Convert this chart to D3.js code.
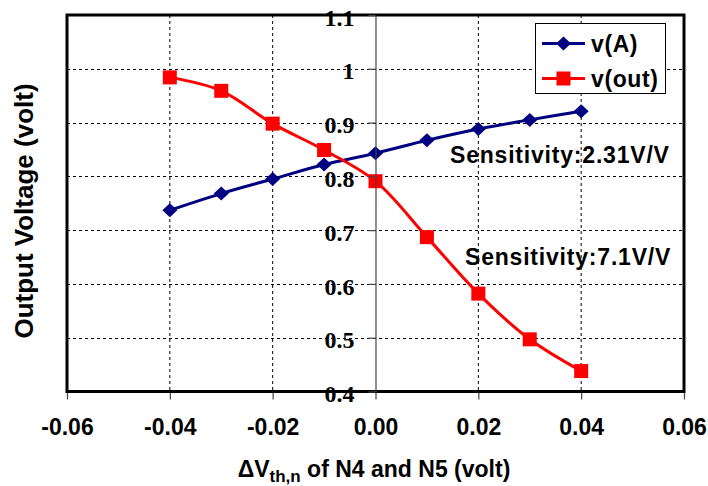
<!DOCTYPE html>
<html>
<head>
<meta charset="utf-8">
<script src="https://cdn.jsdelivr.net/npm/d3@7"></script>
<style>
  html, body { margin: 0; padding: 0; background: #fff; }
  svg { display: block; }
  .sans { font-family: "Liberation Sans", Arial, sans-serif; font-weight: bold; }
  .serif { font-family: "Liberation Serif", "Times New Roman", serif; font-weight: bold; }
</style>
</head>
<body>
<svg id="chart" width="708" height="486"></svg>
<script>
// Threshold-voltage shift (volt) applied to N4 and N5
const dVth = [-0.04, -0.03, -0.02, -0.01, 0.00, 0.01, 0.02, 0.03, 0.04];
// Node voltages (volt)
const vA   = [0.737, 0.768, 0.795, 0.822, 0.843, 0.867, 0.888, 0.905, 0.921];
const vOut = [0.984, 0.959, 0.898, 0.849, 0.791, 0.687, 0.582, 0.497, 0.438];

const seriesNames = ["v(A)", "v(out)"];
const xTicks = [-0.06, -0.04, -0.02, 0.00, 0.02, 0.04, 0.06];
const xTickLabels = ["-0.06", "-0.04", "-0.02", "0.00", "0.02", "0.04", "0.06"];
const yTicks = [0.4, 0.5, 0.6, 0.7, 0.8, 0.9, 1.0, 1.1];
const yTickLabels = ["0.4", "0.5", "0.6", "0.7", "0.8", "0.9", "1", "1.1"];
const annotations = ["Sensitivity:2.31V/V", "Sensitivity:7.1V/V"];

const svg = d3.select("#chart");
const plot = { left: 67, right: 684, top: 15, bottom: 391.5 };

const x = d3.scaleLinear().domain([-0.06, 0.06]).range([plot.left, plot.right]);
const y = d3.scaleLinear().domain([0.4, 1.1]).range([plot.bottom, plot.top]);

// dashed grid
const grid = svg.append("g");
grid.selectAll("line.vg")
  .data(xTicks.filter(v => v !== 0 && Math.abs(v) < 0.059))
  .join("line")
  .attr("x1", d => x(d)).attr("x2", d => x(d))
  .attr("y1", plot.top).attr("y2", plot.bottom)
  .attr("stroke", "#000").attr("stroke-width", 1)
  .attr("stroke-dasharray", "3,3");
grid.selectAll("line.hg")
  .data(yTicks.filter(v => v > 0.41 && v < 1.09))
  .join("line")
  .attr("x1", plot.left).attr("x2", plot.right)
  .attr("y1", d => Math.round(y(d)) + 0.5).attr("y2", d => Math.round(y(d)) + 0.5)
  .attr("stroke", "#000").attr("stroke-width", 1)
  .attr("stroke-dasharray", "3,3");

// vertical value axis crossing at x = 0
const yAxis = d3.axisLeft(y)
  .tickValues(yTicks)
  .tickFormat((d, i) => yTickLabels[i])
  .tickSize(7).tickSizeOuter(0).tickPadding(14);
const gy = svg.append("g").attr("transform", `translate(${x(0)},0)`).call(yAxis);
gy.select(".domain").attr("stroke", "#444").attr("stroke-width", 1.2);
gy.selectAll(".tick line").attr("stroke", "#444").attr("stroke-width", 1.2);
gy.selectAll(".tick text")
  .attr("class", "serif")
  .attr("font-size", 24)
  .attr("fill", "#000")
  .attr("dy", "0.42em");

// horizontal axis along the bottom
const xAxis = d3.axisBottom(x)
  .tickValues(xTicks)
  .tickFormat((d, i) => xTickLabels[i])
  .tickSize(8).tickSizeOuter(0).tickPadding(19);
const gx = svg.append("g").attr("transform", `translate(0,${plot.bottom})`).call(xAxis);
gx.select(".domain").remove();
gx.selectAll(".tick line").attr("stroke", "#444").attr("stroke-width", 1.2);
gx.selectAll(".tick text")
  .attr("class", "sans")
  .attr("font-size", 23)
  .attr("fill", "#000");

// series
const line = d3.line()
  .x(d => x(d[0])).y(d => y(d[1]))
  .curve(d3.curveCatmullRom.alpha(0.5));

const ptsA = dVth.map((v, i) => [v, vA[i]]);
const ptsOut = dVth.map((v, i) => [v, vOut[i]]);

const blue = "#000080", red = "#ff0000";
const diamond = (cx, cy) => `M${cx},${cy - 7}L${cx + 7.5},${cy}L${cx},${cy + 7}L${cx - 7.5},${cy}Z`;

svg.append("path").datum(ptsA).attr("d", line)
  .attr("fill", "none").attr("stroke", blue).attr("stroke-width", 3);
svg.append("path").datum(ptsOut).attr("d", line)
  .attr("fill", "none").attr("stroke", red).attr("stroke-width", 3);

svg.append("g").selectAll("path").data(ptsA).join("path")
  .attr("d", d => diamond(x(d[0]), y(d[1])))
  .attr("fill", blue);
svg.append("g").selectAll("rect").data(ptsOut).join("rect")
  .attr("x", d => x(d[0]) - 7).attr("y", d => y(d[1]) - 7)
  .attr("width", 14).attr("height", 14)
  .attr("fill", red);

// plot frame
svg.append("rect")
  .attr("x", plot.left).attr("y", plot.top)
  .attr("width", plot.right - plot.left).attr("height", plot.bottom - plot.top)
  .attr("fill", "none").attr("stroke", "#000").attr("stroke-width", 3);

// y tick labels sit above the frame
gy.raise();

// sensitivity notes
svg.append("text").attr("class", "sans")
  .attr("x", 450).attr("y", 163).attr("font-size", 23)
  .attr("letter-spacing", 0.8)
  .text(annotations[0]);
svg.append("text").attr("class", "sans")
  .attr("x", 465).attr("y", 265).attr("font-size", 23)
  .attr("letter-spacing", 0.8)
  .text(annotations[1]);

// legend
const lg = svg.append("g");
lg.append("rect")
  .attr("x", 535.5).attr("y", 23.5).attr("width", 130).attr("height", 70)
  .attr("fill", "#fff").attr("stroke", "#000").attr("stroke-width", 1);
const legendRows = [43.5, 78.5];
seriesNames.forEach((name, i) => {
  const cy = legendRows[i];
  const col = i === 0 ? blue : red;
  lg.append("line").attr("x1", 542).attr("x2", 585).attr("y1", cy).attr("y2", cy)
    .attr("stroke", col).attr("stroke-width", 3);
  if (i === 0) {
    lg.append("path").attr("d", diamond(563.5, cy)).attr("fill", col);
  } else {
    lg.append("rect").attr("x", 556.5).attr("y", cy - 7).attr("width", 14).attr("height", 14).attr("fill", col);
  }
  lg.append("text").attr("class", "sans")
    .attr("x", 591).attr("y", cy).attr("dy", "0.36em")
    .attr("font-size", 23).attr("letter-spacing", 0.6)
    .text(name);
});

// axis titles
svg.append("text").attr("class", "sans")
  .attr("transform", "translate(33,211) rotate(-90)")
  .attr("text-anchor", "middle").attr("font-size", 26)
  .text("Output Voltage (volt)");

const xt = svg.append("text").attr("class", "sans")
  .attr("x", 374).attr("y", 477).attr("text-anchor", "middle").attr("font-size", 23);
xt.append("tspan").text("ΔV");
xt.append("tspan").attr("font-size", 17).attr("dy", 5).text("th,n");
xt.append("tspan").attr("dy", -5).text(" of N4 and N5 (volt)");
</script>
</body>
</html>
